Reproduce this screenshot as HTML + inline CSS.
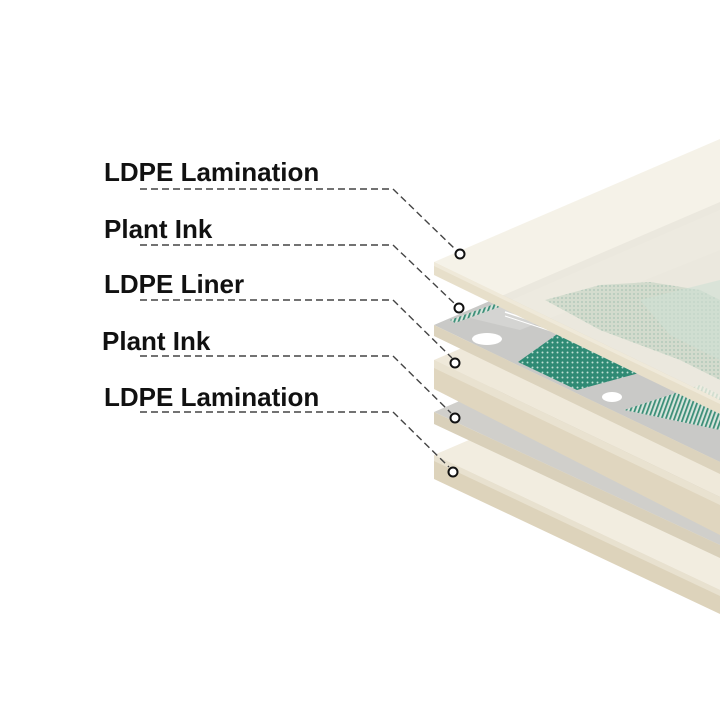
<!DOCTYPE html>
<html><head><meta charset="utf-8"><style>
html,body{margin:0;padding:0;background:#fff}
svg{display:block}
text{font-family:"Liberation Sans",sans-serif;font-weight:bold;font-size:26px;fill:#111}
</style></head><body>
<svg width="720" height="720" viewBox="0 0 720 720" xmlns="http://www.w3.org/2000/svg">
<defs>
<pattern id="dots" width="5" height="5" patternUnits="userSpaceOnUse">
<rect width="5" height="5" fill="#2f8a74"/><circle cx="2.5" cy="2.5" r="1" fill="#bfe0d4"/>
</pattern>
<pattern id="dots2" width="4" height="4" patternUnits="userSpaceOnUse">
<rect width="4" height="4" fill="#c9d6c6"/><circle cx="2" cy="2" r="0.9" fill="#8fb5a4"/>
</pattern>
<pattern id="stripes" width="4" height="4" patternUnits="userSpaceOnUse" patternTransform="rotate(20)">
<rect width="4" height="4" fill="#d8e4dc"/><rect width="1.8" height="4" fill="#3b8e78"/>
</pattern>
</defs>

<polygon points="434,455 720,332 720,590" fill="#f2ede0"/>
<polygon points="434,455 720,590 720,614 434,479" fill="#ddd3bb"/>
<polygon points="434,455 720,590 720,596 434,461" fill="#e8e1cf"/>

<polygon points="434,412 720,289 720,545" fill="#d0cfcb"/>
<polygon points="520,430 600,400 720,440 720,520 640,485" fill="#c2c2c0" opacity="0.7"/>
<polygon points="434,412 720,545 720,558 434,424" fill="#d9d0ba"/>

<polygon points="434,360 720,237 720,497" fill="#efe9da"/>
<polygon points="434,360 720,497 720,535 434,389" fill="#e0d6bf"/>
<polygon points="434,360 720,497 720,505 434,368" fill="#e9e2d0"/>

<polygon points="434,325 720,202 720,462" fill="#c9c9c7"/>
<polygon points="470,318 720,210 720,250 520,330" fill="#d4d4d2"/>
<ellipse cx="487" cy="339" rx="15" ry="6" fill="#fff"/>
<ellipse cx="612" cy="397" rx="10" ry="5" fill="#fff"/>
<polygon points="518,362 563,330 650,370 577,390" fill="url(#dots)"/>
<polygon points="624,410 700,385 720,395 720,430" fill="url(#stripes)"/>
<polygon points="450,320 500,302 505,305 455,323" fill="url(#stripes)"/>
<line x1="505" y1="312" x2="560" y2="330" stroke="#fff" stroke-width="1.5"/>
<line x1="505" y1="316" x2="560" y2="334" stroke="#fff" stroke-width="1"/>
<polygon points="434,325 720,462 720,474 434,336" fill="#dcd3bd"/>

<polygon points="434,262 720,139 720,400" fill="#f3efe3" opacity="0.82"/>
<polygon points="545,300 600,285 650,282 700,290 720,300 720,380 680,360 600,330" fill="url(#dots2)" opacity="0.7"/>
<polygon points="640,300 720,280 720,360 670,335" fill="#cfe0d4" opacity="0.6"/>
<polygon points="434,262 720,400 720,414 434,275" fill="#e7dfca"/>
<polygon points="434,262 720,400 720,404 434,266" fill="#efe9d9"/>

<text x="104" y="181">LDPE Lamination</text>
<text x="104" y="238">Plant Ink</text>
<text x="104" y="293">LDPE Liner</text>
<text x="102" y="350">Plant Ink</text>
<text x="104" y="406">LDPE Lamination</text>

<g fill="none" stroke="#444" stroke-width="1.4" stroke-dasharray="7,4">
<polyline points="140,189 393,189 456,250"/>
<polyline points="140,245 393,245 455,304"/>
<polyline points="140,300 393,300 452,358"/>
<polyline points="140,356 393,356 451,413"/>
<polyline points="140,412 393,412 449,467"/>
</g>
<g fill="#fff" stroke="#111" stroke-width="2">
<circle cx="460" cy="254" r="4.5"/>
<circle cx="459" cy="308" r="4.5"/>
<circle cx="455" cy="363" r="4.5"/>
<circle cx="455" cy="418" r="4.5"/>
<circle cx="453" cy="472" r="4.5"/>
</g>
</svg>
</body></html>
